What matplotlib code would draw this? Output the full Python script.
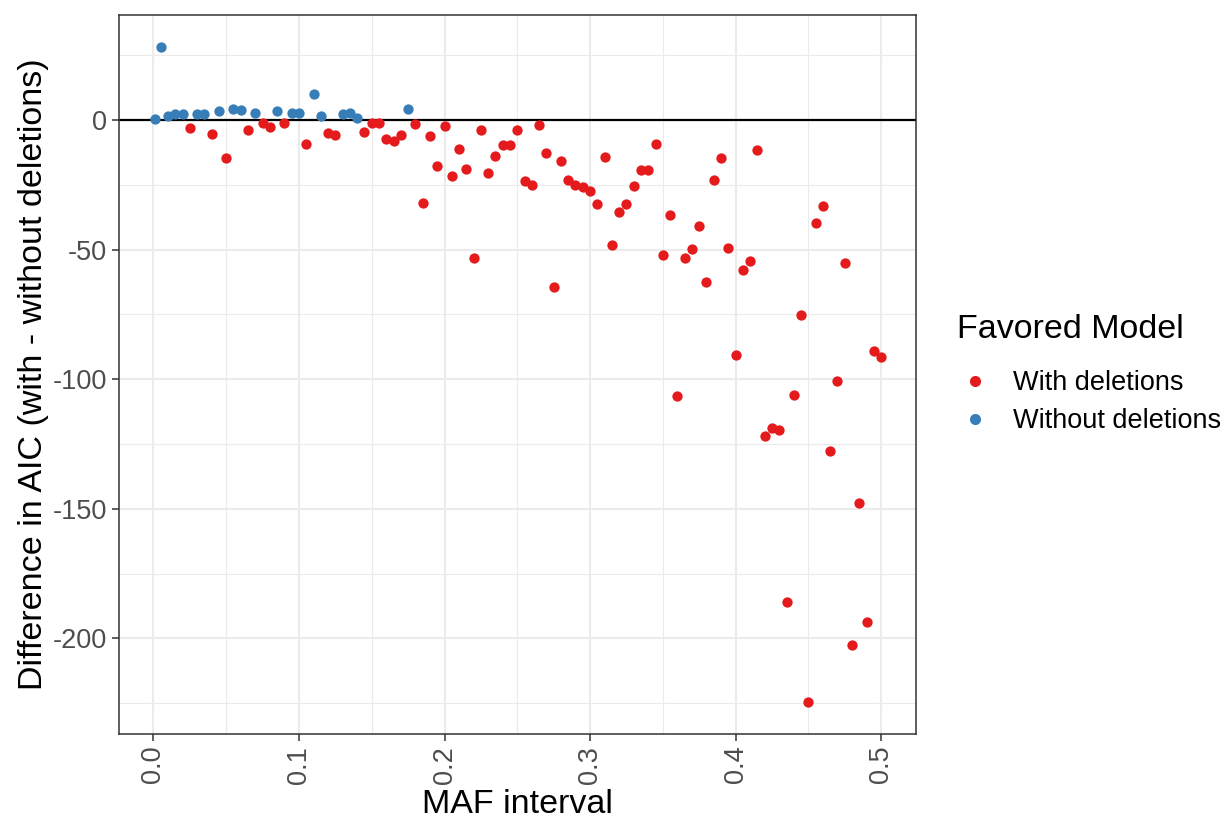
import matplotlib
matplotlib.use("Agg")
import matplotlib.pyplot as plt
from matplotlib.lines import Line2D
from matplotlib.ticker import MultipleLocator

plt.rcParams['font.family'] = ['Liberation Sans', 'DejaVu Sans']

# Points where the model without deletions is favored (positive difference)
without_x = [0.001, 0.005, 0.010, 0.015, 0.020, 0.030, 0.035, 0.045, 0.055, 0.060,
             0.070, 0.085, 0.095, 0.100, 0.110, 0.115, 0.130, 0.135, 0.140, 0.175]
without_y = [0.5, 28.2, 1.5, 2.2, 2.4, 2.2, 2.2, 3.4, 4.2, 3.9,
             2.7, 3.6, 2.6, 2.6, 9.9, 1.7, 2.2, 2.8, 0.9, 4.2]

# Points where the model with deletions is favored (negative difference)
with_x = [0.025, 0.040, 0.050, 0.065, 0.075, 0.080, 0.090, 0.105, 0.120, 0.125,
          0.145, 0.150, 0.155, 0.160, 0.165, 0.170, 0.180, 0.185, 0.190, 0.195,
          0.200, 0.205, 0.210, 0.215, 0.220, 0.225, 0.230, 0.235, 0.240, 0.245,
          0.250, 0.255, 0.260, 0.265, 0.270, 0.275, 0.280, 0.285, 0.290, 0.295,
          0.300, 0.305, 0.310, 0.315, 0.320, 0.325, 0.330, 0.335, 0.340, 0.345,
          0.350, 0.355, 0.360, 0.365, 0.370, 0.375, 0.380, 0.385, 0.390, 0.395,
          0.400, 0.405, 0.410, 0.415, 0.420, 0.425, 0.430, 0.435, 0.440, 0.445,
          0.450, 0.455, 0.460, 0.465, 0.470, 0.475, 0.480, 0.485, 0.490, 0.495,
          0.500]
with_y = [-3.2, -5.3, -14.7, -3.7, -1.3, -2.8, -1.2, -9.3, -5.0, -5.9,
          -4.6, -1.3, -1.0, -7.4, -8.1, -5.9, -1.4, -32.0, -6.2, -17.6,
          -2.4, -21.6, -11.3, -19.0, -53.1, -4.0, -20.6, -13.9, -9.5, -9.5,
          -3.9, -23.4, -25.1, -2.0, -12.6, -64.4, -15.7, -23.1, -25.2, -26.0,
          -27.4, -32.4, -14.4, -48.3, -35.6, -32.4, -25.5, -19.4, -19.3, -9.3,
          -52.0, -36.8, -106.6, -53.2, -49.8, -40.9, -62.5, -23.0, -14.5, -49.4,
          -90.8, -57.9, -54.3, -11.5, -122.0, -118.8, -119.5, -185.8, -106.2, -75.3,
          -224.7, -39.6, -33.2, -127.7, -100.7, -55.1, -202.5, -147.9, -193.7, -89.2,
          -91.4]

red = '#E41A1C'
blue = '#377EB8'

fig = plt.figure(figsize=(12.26, 8.18), dpi=100)
ax = fig.add_axes([0.0971, 0.1027, 0.650, 0.879])

ax.scatter(with_x, with_y, s=55, color=red, linewidths=0, zorder=3)
ax.scatter(without_x, without_y, s=55, color=blue, linewidths=0, zorder=3)
ax.axhline(0, color='black', linewidth=1.6, zorder=2)

ax.set_xlim(-0.0236, 0.5239)
ax.set_ylim(-236.9, 40.5)
ax.xaxis.set_major_locator(MultipleLocator(0.1))
ax.xaxis.set_minor_locator(MultipleLocator(0.05))
ax.yaxis.set_major_locator(MultipleLocator(50))
ax.yaxis.set_minor_locator(MultipleLocator(25))
ax.grid(which='major', color='#EBEBEB', linewidth=1.5, zorder=0)
ax.grid(which='minor', color='#EBEBEB', linewidth=0.8, zorder=0)
ax.set_axisbelow(True)

ax.tick_params(which='minor', length=0)
ax.tick_params(which='major', length=5, width=1.1, color='#333333',
               labelsize=19.5, labelcolor='#4D4D4D')
ax.set_xticks([0.0, 0.1, 0.2, 0.3, 0.4, 0.5])
ax.set_xticklabels(['0.0', '0.1', '0.2', '0.3', '0.4', '0.5'], rotation=90)
ax.set_yticks([0, -50, -100, -150, -200])
ax.set_yticklabels(['0', '-50', '-100', '-150', '-200'])
for sp in ax.spines.values():
    sp.set_color('#333333')
    sp.set_linewidth(1.1)

ax.set_xlabel('MAF interval', fontsize=24.5, labelpad=4)
ax.set_ylabel('Difference in AIC (with - without deletions)', fontsize=24.5, labelpad=3)

# legend: title drawn separately to get ggplot's wider title gap
fig.text(957 / 1226, 1 - 330 / 818, 'Favored Model', fontsize=24.5,
         ha='left', va='center')
handles = [
    Line2D([], [], marker='o', linestyle='', color=red, markersize=8, markeredgewidth=0),
    Line2D([], [], marker='o', linestyle='', color=blue, markersize=8, markeredgewidth=0),
]
leg = fig.legend(handles, ['With deletions', 'Without deletions'],
                 loc='upper left',
                 bbox_to_anchor=(957 / 1226, 1 - 370 / 818),
                 frameon=False, fontsize=19.5,
                 borderpad=0, borderaxespad=0, handlelength=1.3,
                 handletextpad=0.78, labelspacing=0.46)

fig.savefig('out.png', dpi=100)
plt.close(fig)
